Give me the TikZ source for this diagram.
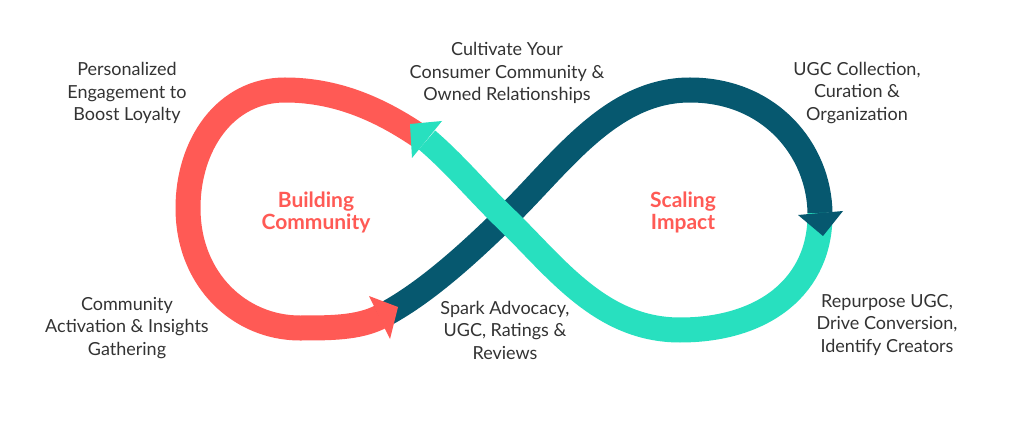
\documentclass[tikz,border=0pt]{standalone}
\usepackage{fontspec}
\setmainfont{Lato}
\definecolor{coral}{HTML}{FF5A55}
\definecolor{petrol}{HTML}{06586F}
\definecolor{mint}{HTML}{28E0BF}
\begin{document}
\begin{tikzpicture}[x=1pt, y=-1pt, font=\fontsize{18}{22.5}\selectfont,
  band/.style={line width=25pt},
  note/.style={align=center, text=black!80},
  title/.style={align=center, text=coral, font=\fontsize{21}{22}\selectfont\bfseries}]
\fill[white] (0,0) rectangle (1024,427);
\useasboundingbox (0,0) rectangle (1024,427);
% loop points
\coordinate (redstart) at (425,140);
\coordinate (redend) at (380,317);
\coordinate (navyend) at (820,213);
\coordinate (mintend) at (427,140);
\coordinate (cross) at (505,218);
% bands
\draw[band, coral] (redstart) .. controls (385,112) and (340,90) .. (285,90)
  .. controls (225,90) and (188,145) .. (188,208)
  .. controls (188,280) and (240,328) .. (300,328)
  .. controls (330,328) and (358,328) .. (redend);
\draw[band, petrol] (redend) .. controls (425,294) and (470,252) .. (cross)
  .. controls (560,165) and (610,90) .. (690,90)
  .. controls (770,90) and (819,150) .. (navyend);
\draw[band, mint] (navyend) .. controls (821,285) and (765,330) .. (680,330)
  .. controls (600,330) and (555,266) .. (cross)
  .. controls (480,194) and (455,164) .. (mintend);
% heads
\fill[coral] (369,296) -- (398,307) -- (390,339) -- cycle;
\fill[petrol] (798,215) -- (823,236) -- (843,211) -- cycle;
\fill[mint] (442,121) -- (410,124) -- (412,158) -- cycle;
% texts
\node[note] (loyalty) at (127,93) {Personalized\\Engagement to\\Boost Loyalty};
\node[note] (cultivate) at (507,73) {Cultivate Your\\Consumer Community \&\\Owned Relationships};
\node[note] (curation) at (857,93) {UGC Collection,\\Curation \&\\Organization};
\node[note] (activation) at (127,328) {Community\\Activation \& Insights\\Gathering};
\node[note] (spark) at (505,330) {Spark Advocacy,\\UGC, Ratings \&\\Reviews};
\node[note] (repurpose) at (887,325) {Repurpose UGC,\\Drive Conversion,\\Identify Creators};
\node[title] (building) at (316,212) {Building\\Community};
\node[title] (scaling) at (683,212) {Scaling\\Impact};
\end{tikzpicture}
\end{document}
